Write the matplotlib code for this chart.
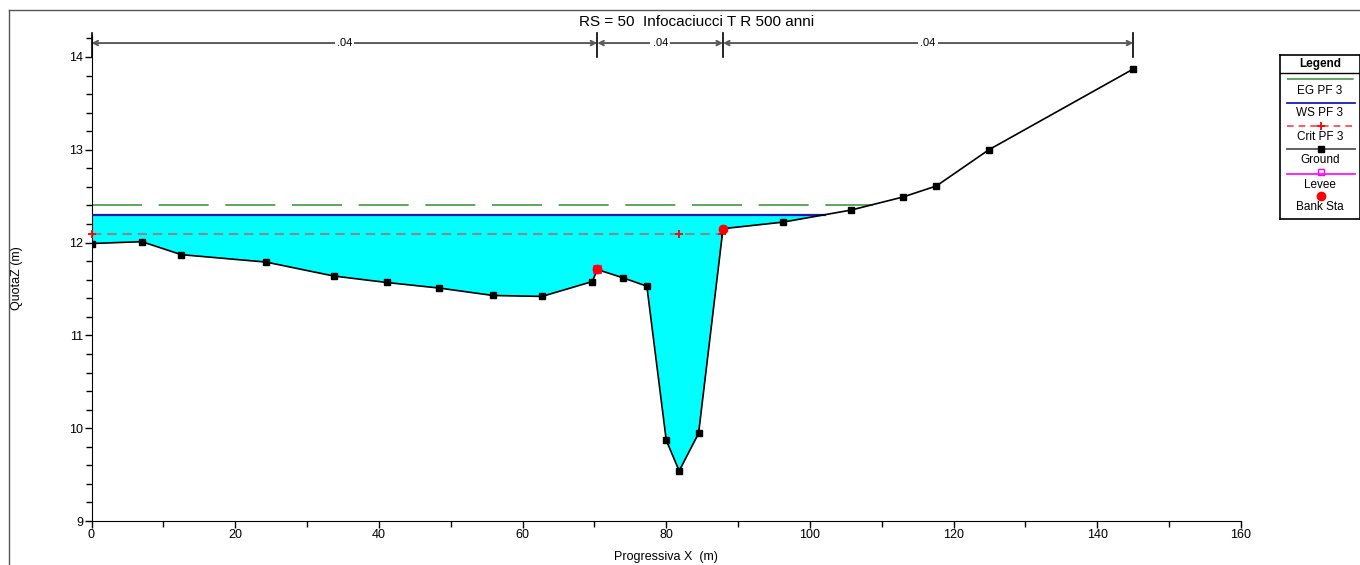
import numpy as np
import matplotlib.pyplot as plt
from matplotlib.lines import Line2D
from matplotlib.ticker import MultipleLocator

plt.rcParams['font.family'] = ['Liberation Sans', 'DejaVu Sans']

# sezione trasversale RS 50 (progressiva, quota)
ground_x = [0, 7.0, 12.5, 24.3, 33.7, 41.1, 48.4, 55.9, 62.7, 69.7, 70.4, 74.0,
            77.3, 80.0, 81.8, 84.5, 87.9, 96.2, 105.7, 112.9, 117.6, 124.9, 145.0]
ground_z = [11.99, 12.01, 11.87, 11.79, 11.64, 11.57, 11.51, 11.43, 11.42, 11.58,
            11.71, 11.62, 11.53, 9.87, 9.54, 9.945, 12.15, 12.22, 12.35, 12.49,
            12.61, 13.00, 13.87]

ws_pf3 = 12.30     # pelo libero
eg_pf3 = 12.41     # linea dell'energia
crit_pf3 = 12.09   # livello critico
crit_x = [0, 81.8, 87.8]

bank_x = [70.4, 87.9]
bank_z = [11.71, 12.15]
levee_x = [70.4]
levee_z = [11.71]

# coefficienti di Manning e stazioni di cambio
n_sta = [0, 70.4, 87.9, 145.0]
n_val = [0.04, 0.04, 0.04]

title = "RS = 50  Infocaciucci T R 500 anni"

gx = np.array(ground_x)
gz = np.array(ground_z)


def crossing(level):
    # intersezione del livello con la sponda destra
    for i in range(len(gx) - 1, 0, -1):
        if gz[i] >= level and gz[i - 1] < level:
            return gx[i - 1] + (level - gz[i - 1]) / (gz[i] - gz[i - 1]) * (gx[i] - gx[i - 1])
    return gx[-1]


fig = plt.figure(figsize=(13.6, 5.65), dpi=100)
W, H = 1360, 565
ax = fig.add_axes([91.5 / W, 44 / H, (1241 - 91.5) / W, 486.3 / H])

# riempimento acqua
xs = np.linspace(0, gx[-1], 3000)
zs = np.interp(xs, gx, gz)
x_ws = crossing(ws_pf3)
wet = (zs < ws_pf3) & (xs <= x_ws)
ax.fill_between(xs, zs, ws_pf3, where=wet, color='#00ffff', lw=0, zorder=1)

# linee di livello
x_eg = crossing(eg_pf3)
ax.plot([0, x_eg], [eg_pf3, eg_pf3], color='#3f9a3f', lw=1.2, dashes=(30, 10), zorder=2)
ax.plot([0, x_ws], [ws_pf3, ws_pf3], color='#1a1ab4', lw=1.6, zorder=3)
x_cr = crossing(crit_pf3)
ax.plot([0, x_cr], [crit_pf3, crit_pf3], color='#8a8a8a', lw=1.5, dashes=(4.5, 2.8), zorder=3)
ax.plot(crit_x, [crit_pf3] * len(crit_x), ls='none', marker='+', color='red',
        ms=6, mew=1.3, zorder=4, clip_on=False)

# terreno
ax.plot(gx, gz, color='black', lw=1.2, marker='s', ms=4.5, zorder=5)
ax.plot(levee_x, levee_z, ls='none', marker='s', ms=6, mfc='none', mec='magenta',
        mew=0.8, zorder=6)
ax.plot(bank_x, bank_z, ls='none', marker='o', ms=6, color='red', zorder=7)

# coefficienti di Manning
y_n = 14.15
for i in range(len(n_val)):
    a, b = n_sta[i], n_sta[i + 1]
    ax.annotate('', xy=(a, y_n), xytext=(b, y_n),
                arrowprops=dict(arrowstyle='<->', color='#5a5a5a', lw=1.4,
                                shrinkA=0, shrinkB=0, mutation_scale=8),
                annotation_clip=False)
    ax.text((a + b) / 2, y_n, ('%.2f' % n_val[i]).lstrip('0'), ha='center',
            va='center', fontsize=8,
            bbox=dict(facecolor='white', edgecolor='none', pad=1.5))
for s in n_sta:
    ax.plot([s, s], [14.0, 14.26], color='black', lw=1.2, clip_on=False, zorder=8)

ax.set_xlim(0, 160)
ax.set_ylim(9, 14.24)
ax.xaxis.set_major_locator(MultipleLocator(20))
ax.xaxis.set_minor_locator(MultipleLocator(10))
ax.yaxis.set_major_locator(MultipleLocator(1))
ax.yaxis.set_minor_locator(MultipleLocator(0.2))
ax.tick_params(which='major', length=5, width=1, labelsize=9, pad=1)
ax.tick_params(which='minor', length=4, width=1)
for side in ['top', 'right']:
    ax.spines[side].set_visible(False)
ax.set_xlabel('Progressiva X  (m)', fontsize=9)
ax.set_ylabel('QuotaZ (m)', fontsize=9)
ax.xaxis.set_label_coords(0.5, -0.062)
ax.yaxis.set_label_coords(-0.06, 0.5)

fig.text(697 / W, 1 - 22 / H, title, ha='center', va='center', fontsize=11)

# cornice esterna
fig.add_artist(Line2D([9 / W, 9 / W], [0, 1 - 10 / H], color='#555555', lw=1))
fig.add_artist(Line2D([9 / W, 1], [1 - 10 / H, 1 - 10 / H], color='#555555', lw=1))

# legenda
lg = fig.add_axes([1280 / W, 1 - 219 / H, 80 / W, 164 / H])
lg.set_xlim(0, 80)
lg.set_ylim(164, 0)
lg.set_xticks([])
lg.set_yticks([])
for sp in lg.spines.values():
    sp.set_linewidth(1.2)
lg.text(40, 9, 'Legend', ha='center', va='center', fontsize=8.5, fontweight='bold')
lg.plot([0, 80], [17.7, 17.7], color='black', lw=1)
lg.plot([7, 75], [24, 24], color='#3f9a3f', lw=1.2, dashes=(40, 9))
lg.text(40, 36.5, 'EG PF 3', ha='center', va='center', fontsize=8.5)
lg.plot([7, 75], [48, 48], color='#1a1ab4', lw=1.3)
lg.text(40, 58.5, 'WS PF 3', ha='center', va='center', fontsize=8.5)
lg.plot([7, 75], [71.5, 71.5], color='#ff4040', lw=1.2, dashes=(4, 3))
lg.plot([41], [71.5], marker='+', color='red', ms=6, mew=1.3)
lg.text(40, 82, 'Crit PF 3', ha='center', va='center', fontsize=8.5)
lg.plot([7, 75], [94, 94], color='#555555', lw=1.3)
lg.plot([41], [94], marker='s', color='black', ms=4.5)
lg.text(40, 105, 'Ground', ha='center', va='center', fontsize=8.5)
lg.plot([7, 75], [119, 119], color='magenta', lw=1.2)
lg.plot([41], [117], marker='s', mfc='none', mec='magenta', ms=5, mew=1)
lg.text(40, 130, 'Levee', ha='center', va='center', fontsize=8.5)
lg.plot([41], [141], marker='o', color='red', ms=6)
lg.text(40, 152, 'Bank Sta', ha='center', va='center', fontsize=8.5)

fig.savefig('out.png', dpi=100)
